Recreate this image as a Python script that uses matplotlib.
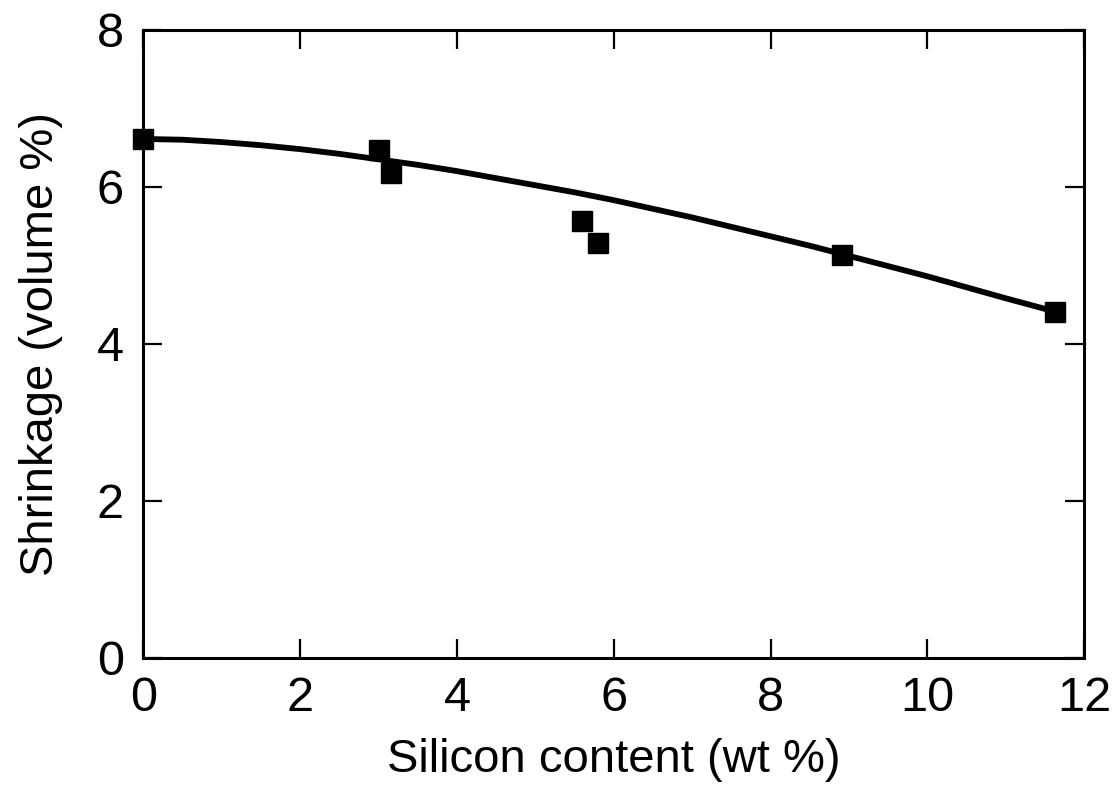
import numpy as np
import matplotlib
matplotlib.use("Agg")
from matplotlib import pyplot as plt

# measured points
silicon = [0.0, 3.0, 3.16, 5.60, 5.80, 8.91, 11.63]
shrinkage = [6.61, 6.47, 6.18, 5.57, 5.29, 5.13, 4.41]

# fitted trend line
fit_x = [0, 0.5, 1, 1.5, 2, 2.5, 3, 3.5, 4, 4.5, 5, 5.5, 6, 6.5, 7, 7.5, 8, 8.5, 9,
         9.5, 10, 10.5, 11, 11.63]
fit_y = [6.61, 6.60, 6.57, 6.53, 6.48, 6.42, 6.35, 6.28, 6.20, 6.11, 6.02, 5.93,
         5.83, 5.72, 5.61, 5.49, 5.37, 5.25, 5.12, 4.99, 4.86, 4.72, 4.58, 4.41]

plt.rcParams['font.family'] = ['Liberation Sans', 'DejaVu Sans']

fig = plt.figure(figsize=(11.2, 7.85), dpi=100)
ax = fig.add_axes([0.128, 0.162, 0.840, 0.800])

ax.plot(fit_x, fit_y, color='black', lw=4.2, solid_capstyle='butt')
ax.plot(silicon, shrinkage, ls='none', marker='s', ms=15, color='black', clip_on=False)

ax.set_xlim(0, 12)
ax.set_ylim(0, 8)
ax.set_xticks(np.arange(0, 13, 2))
ax.set_yticks(np.arange(0, 9, 2))

for s in ax.spines.values():
    s.set_linewidth(2.2)
ax.tick_params(direction='in', length=14, width=1.6, top=True, right=True, labelsize=35)
ax.tick_params(axis='x', pad=13)
ax.tick_params(axis='y', pad=14)

ax.set_xlabel("Silicon content (wt %)", fontsize=34, labelpad=12)
ax.set_ylabel("Shrinkage (volume %)", fontsize=34, labelpad=24)

fig.savefig("out.png", dpi=100)
